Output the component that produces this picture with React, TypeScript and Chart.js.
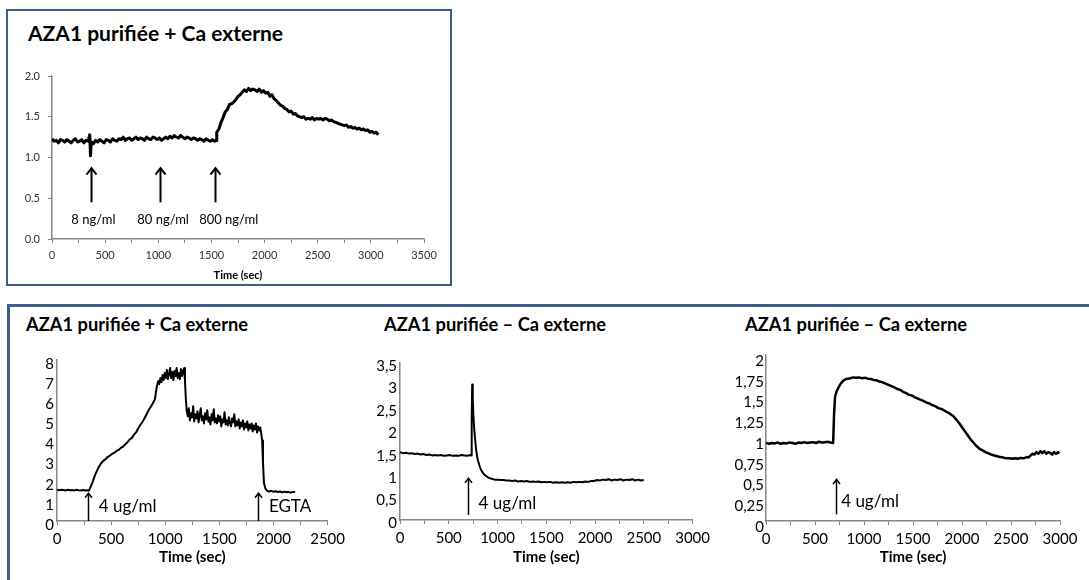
import React, { useEffect, useRef } from 'react';
import { Chart, registerables } from 'chart.js';

Chart.register(...registerables);

const FONT = 'Lato, "Open Sans", sans-serif';
const AXIS_GREY = '#868686';
const FRAME_BLUE = '#3c5f8c';

// ---------------- data ----------------
// Panel A (top): AZA1 purifiée + Ca externe, ratio vs time (sec)
const topTrace: [number, number][] = [
  [0, 1.23], [20, 1.2], [40, 1.21], [60, 1.18], [80, 1.22], [100, 1.21], [120, 1.19], [140, 1.22],
  [160, 1.2], [180, 1.18], [200, 1.21], [220, 1.23], [240, 1.19], [260, 1.2], [280, 1.22], [300, 1.18],
  [320, 1.21], [340, 1.2], [355, 1.28], [362, 1.02], [370, 1.19], [390, 1.17], [410, 1.21], [430, 1.19],
  [450, 1.22], [470, 1.2], [490, 1.18], [510, 1.22], [530, 1.21], [550, 1.19], [570, 1.23], [590, 1.21],
  [610, 1.2], [630, 1.23], [650, 1.22], [670, 1.25], [690, 1.21], [710, 1.23], [730, 1.24], [750, 1.21],
  [770, 1.23], [790, 1.25], [810, 1.22], [830, 1.24], [850, 1.23], [870, 1.21], [890, 1.25], [910, 1.23],
  [930, 1.22], [950, 1.25], [970, 1.24], [990, 1.22], [1010, 1.24], [1030, 1.21], [1050, 1.23], [1070, 1.25],
  [1090, 1.23], [1110, 1.26], [1130, 1.24], [1150, 1.27], [1170, 1.25], [1190, 1.24], [1210, 1.27], [1230, 1.25],
  [1250, 1.23], [1270, 1.25], [1290, 1.24], [1310, 1.22], [1330, 1.24], [1350, 1.23], [1370, 1.21], [1390, 1.23],
  [1410, 1.22], [1430, 1.2], [1450, 1.23], [1470, 1.21], [1490, 1.2], [1510, 1.22], [1530, 1.2], [1545, 1.21],
  [1550, 1.31], [1570, 1.35], [1590, 1.43], [1610, 1.49], [1630, 1.56], [1650, 1.59], [1670, 1.65], [1690, 1.66],
  [1710, 1.68], [1730, 1.71], [1750, 1.75], [1770, 1.77], [1790, 1.8], [1810, 1.83], [1830, 1.81], [1850, 1.85],
  [1870, 1.82], [1890, 1.84], [1910, 1.83], [1930, 1.81], [1950, 1.84], [1970, 1.8], [1990, 1.82], [2010, 1.79],
  [2030, 1.8], [2050, 1.75], [2070, 1.77], [2090, 1.72], [2110, 1.7], [2130, 1.67], [2150, 1.64], [2170, 1.63],
  [2190, 1.6], [2210, 1.59], [2230, 1.56], [2250, 1.57], [2270, 1.53], [2290, 1.54], [2310, 1.51], [2330, 1.5],
  [2350, 1.49], [2370, 1.5], [2390, 1.47], [2410, 1.48], [2430, 1.47], [2450, 1.49], [2470, 1.46], [2490, 1.48],
  [2510, 1.47], [2530, 1.48], [2550, 1.46], [2570, 1.48], [2590, 1.47], [2610, 1.45], [2630, 1.46], [2650, 1.44],
  [2670, 1.43], [2690, 1.42], [2710, 1.41], [2730, 1.4], [2750, 1.39], [2770, 1.4], [2790, 1.37], [2810, 1.38],
  [2830, 1.36], [2850, 1.37], [2870, 1.35], [2890, 1.36], [2910, 1.34], [2930, 1.35], [2950, 1.33], [2970, 1.34],
  [2990, 1.31], [3010, 1.32], [3030, 1.3], [3050, 1.31], [3070, 1.28],
];
const topArrowTimes = [364, 1016, 1533];
const topNoteTimes = [390, 1045, 1663];
const topNotes = ['8 ng/ml', '80 ng/ml', '800 ng/ml'];

// Panel B (bottom left): AZA1 purifiée + Ca externe, 4 ug/ml then EGTA
const blTrace: [number, number][] = [
  [0, 1.55], [20, 1.53], [40, 1.55], [60, 1.54], [80, 1.52], [100, 1.55], [120, 1.53], [140, 1.54],
  [160, 1.52], [180, 1.55], [200, 1.53], [220, 1.52], [240, 1.54], [260, 1.52], [280, 1.53], [295, 1.51],
  [310, 1.68], [330, 1.95], [350, 2.27], [370, 2.5], [390, 2.72], [410, 2.88], [430, 3.0], [450, 3.08],
  [470, 3.19], [490, 3.25], [510, 3.34], [530, 3.4], [550, 3.48], [570, 3.53], [590, 3.63], [610, 3.69],
  [630, 3.81], [650, 3.9], [670, 4.05], [690, 4.12], [710, 4.28], [730, 4.4], [750, 4.6], [770, 4.78],
  [790, 4.93], [810, 5.12], [830, 5.33], [850, 5.54], [870, 5.7], [890, 5.9], [905, 6.05], [915, 6.45],
  [925, 6.75], [935, 6.95], [945, 6.8], [955, 7.1], [965, 6.9], [975, 7.25], [985, 7.0], [995, 7.35],
  [1005, 7.1], [1015, 7.5], [1025, 7.05], [1035, 7.3], [1045, 7.6], [1055, 7.1], [1065, 7.4], [1075, 7.0],
  [1085, 7.45], [1095, 7.2], [1105, 7.6], [1115, 7.1], [1125, 7.35], [1135, 7.05], [1145, 7.55], [1155, 7.2],
  [1165, 7.45], [1175, 7.6], [1182, 7.0], [1190, 6.1], [1198, 5.5], [1208, 5.2], [1218, 5.6], [1228, 5.0],
  [1238, 5.35], [1248, 5.15], [1258, 5.7], [1268, 4.95], [1278, 5.3], [1288, 5.1], [1298, 5.45], [1308, 4.9],
  [1318, 5.25], [1328, 5.6], [1338, 5.0], [1348, 5.2], [1358, 4.85], [1368, 5.35], [1378, 5.05], [1388, 5.5],
  [1398, 4.95], [1408, 5.15], [1418, 4.8], [1428, 5.3], [1438, 5.0], [1448, 5.55], [1458, 4.9], [1468, 5.1],
  [1478, 4.85], [1488, 5.25], [1498, 4.95], [1508, 5.2], [1518, 4.7], [1528, 5.05], [1538, 4.9], [1548, 5.4],
  [1558, 4.8], [1568, 5.0], [1578, 4.75], [1588, 5.15], [1598, 4.85], [1608, 4.7], [1618, 5.1], [1628, 4.9],
  [1638, 5.3], [1648, 4.7], [1658, 4.95], [1668, 4.75], [1678, 5.05], [1688, 4.6], [1698, 4.9], [1708, 4.7],
  [1718, 5.0], [1728, 4.55], [1738, 4.85], [1748, 4.65], [1758, 4.95], [1768, 4.5], [1778, 4.8], [1788, 4.6],
  [1798, 4.85], [1808, 4.45], [1818, 4.75], [1828, 4.55], [1838, 4.85], [1848, 4.4], [1858, 4.7], [1868, 4.5],
  [1878, 4.65], [1888, 4.3], [1895, 4.0], [1903, 2.9], [1912, 1.9], [1925, 1.62], [1940, 1.5], [1960, 1.47],
  [1980, 1.5], [2000, 1.45], [2020, 1.48], [2040, 1.44], [2060, 1.47], [2080, 1.42], [2100, 1.46], [2120, 1.43],
  [2140, 1.45], [2160, 1.41], [2180, 1.45], [2200, 1.43],
];
const blArrowTimes = [286, 1859];
const blNoteTimes = [386, 1958];
const blNotes = ['4 ug/ml', 'EGTA'];

// Panel C (bottom middle): AZA1 purifiée – Ca externe
const bmTrace: [number, number][] = [
  [0, 1.51], [30, 1.49], [60, 1.5], [90, 1.48], [120, 1.49], [150, 1.47], [180, 1.48], [210, 1.46],
  [240, 1.47], [270, 1.45], [300, 1.46], [330, 1.44], [360, 1.45], [390, 1.44], [420, 1.45], [450, 1.43],
  [480, 1.44], [510, 1.45], [540, 1.43], [570, 1.44], [600, 1.43], [630, 1.45], [660, 1.44], [690, 1.43],
  [720, 1.45], [728, 1.44], [735, 2.2], [740, 3.02], [746, 2.7], [752, 2.35], [760, 2.05], [770, 1.8],
  [780, 1.58], [790, 1.42], [800, 1.32], [815, 1.21], [830, 1.12], [850, 1.05], [870, 1.0], [890, 0.97],
  [910, 0.94], [940, 0.92], [970, 0.9], [1000, 0.9], [1030, 0.89], [1060, 0.89], [1090, 0.88], [1120, 0.88],
  [1150, 0.87], [1180, 0.88], [1210, 0.86], [1240, 0.87], [1270, 0.86], [1300, 0.87], [1330, 0.85], [1360, 0.86],
  [1390, 0.85], [1420, 0.86], [1450, 0.84], [1480, 0.85], [1510, 0.84], [1540, 0.85], [1570, 0.83], [1600, 0.84],
  [1630, 0.83], [1660, 0.84], [1690, 0.83], [1720, 0.84], [1750, 0.83], [1780, 0.85], [1810, 0.84], [1840, 0.85],
  [1870, 0.84], [1900, 0.86], [1930, 0.85], [1960, 0.87], [1990, 0.87], [2020, 0.89], [2050, 0.88], [2080, 0.9],
  [2110, 0.89], [2140, 0.91], [2170, 0.88], [2200, 0.9], [2230, 0.89], [2260, 0.91], [2290, 0.88], [2320, 0.9],
  [2350, 0.89], [2380, 0.91], [2410, 0.88], [2440, 0.9], [2470, 0.88], [2500, 0.89],
];
const bmArrowTimes = [699];
const bmNoteTimes = [806];
const bmNotes = ['4 ug/ml'];

// Panel D (bottom right): AZA1 purifiée – Ca externe
const brTrace: [number, number][] = [
  [0, 0.94], [30, 0.93], [60, 0.94], [90, 0.935], [120, 0.945], [150, 0.93], [180, 0.94], [210, 0.935],
  [240, 0.945], [270, 0.94], [300, 0.93], [330, 0.945], [360, 0.94], [390, 0.95], [420, 0.94], [450, 0.945],
  [480, 0.95], [510, 0.94], [540, 0.955], [570, 0.945], [600, 0.95], [630, 0.955], [660, 0.945], [685, 0.94],
  [695, 1.3], [705, 1.5], [720, 1.56], [740, 1.61], [760, 1.65], [780, 1.68], [800, 1.7], [830, 1.715],
  [860, 1.72], [890, 1.73], [920, 1.725], [950, 1.73], [980, 1.72], [1010, 1.725], [1040, 1.715], [1070, 1.71],
  [1100, 1.7], [1130, 1.695], [1160, 1.68], [1190, 1.67], [1220, 1.655], [1250, 1.64], [1280, 1.625], [1310, 1.61],
  [1340, 1.59], [1370, 1.58], [1400, 1.555], [1430, 1.54], [1460, 1.52], [1490, 1.51], [1520, 1.49], [1550, 1.475],
  [1580, 1.46], [1610, 1.445], [1640, 1.425], [1670, 1.415], [1700, 1.395], [1730, 1.38], [1760, 1.36], [1790, 1.35],
  [1820, 1.33], [1850, 1.31], [1880, 1.29], [1910, 1.265], [1940, 1.225], [1970, 1.18], [2000, 1.13], [2030, 1.08],
  [2060, 1.03], [2090, 0.98], [2120, 0.94], [2150, 0.9], [2180, 0.87], [2210, 0.85], [2240, 0.83], [2270, 0.815],
  [2300, 0.8], [2330, 0.79], [2360, 0.78], [2390, 0.77], [2420, 0.765], [2450, 0.755], [2480, 0.755], [2510, 0.75],
  [2540, 0.755], [2570, 0.75], [2600, 0.76], [2630, 0.755], [2660, 0.77], [2680, 0.765], [2700, 0.79], [2720, 0.81],
  [2740, 0.8], [2760, 0.83], [2780, 0.81], [2800, 0.84], [2820, 0.82], [2840, 0.84], [2860, 0.81], [2880, 0.83],
  [2900, 0.82], [2920, 0.8], [2940, 0.83], [2960, 0.81], [2980, 0.83], [2990, 0.81],
];
const brArrowTimes = [713];
const brNoteTimes = [767];
const brNotes = ['4 ug/ml'];

const titlePlus = 'AZA1 purifiée + Ca externe';
const titleMinus = 'AZA1 purifiée – Ca externe';
const xAxisTitle = 'Time (sec)';

// ---------------- chart plumbing ----------------
type Spec = {
  trace: [number, number][];
  arrowTimes: number[];
  arrowFrom: number;
  arrowTo: number;
  noteTimes: number[];
  notes: string[];
  noteY: number;
  noteAlign: CanvasTextAlign;
  noteFont: number;
  arrowWidth: number;
  head: number;
  xMax: number;
  xStep: number;
  xLabelEvery: number;
  yMax: number;
  yStep: number;
  yFmt: (v: number) => string;
  left: number;
  top: number;
  width: number;
  height: number;
  padTop: number;
  padRight: number;
  yAxisWidth: number;
  xAxisHeight: number;
  tickFont: number;
  tickColor: string;
  titleFont: number;
  xTickPad: number;
  yTickLen: number;
  yTickPad: number;
  yLabelOffset: number;
  lineWidth: number;
};

const arrowPlugin = {
  id: 'arrowNotes',
  afterDatasetsDraw(chart: any, _args: any, o: any) {
    const { ctx } = chart;
    const xs = chart.scales.x;
    const ys = chart.scales.y;
    ctx.save();
    ctx.strokeStyle = '#000';
    ctx.lineWidth = o.arrowWidth;
    ctx.lineCap = 'butt';
    ctx.lineJoin = 'miter';
    o.arrowTimes.forEach((t: number) => {
      const px = Math.round(xs.getPixelForValue(t)) + 0.5;
      const pTop = ys.getPixelForValue(o.arrowTo);
      const pBot = ys.getPixelForValue(o.arrowFrom);
      ctx.beginPath();
      ctx.moveTo(px, pBot);
      ctx.lineTo(px, pTop);
      ctx.stroke();
      ctx.beginPath();
      ctx.moveTo(px - o.head, pTop + o.head * 1.3);
      ctx.lineTo(px, pTop);
      ctx.lineTo(px + o.head, pTop + o.head * 1.3);
      ctx.stroke();
    });
    ctx.fillStyle = '#000';
    ctx.font = `${o.noteFont}px ${FONT}`;
    ctx.textAlign = o.noteAlign;
    ctx.textBaseline = 'middle';
    o.noteTimes.forEach((t: number, i: number) => {
      ctx.fillText(o.notes[i], xs.getPixelForValue(t), ys.getPixelForValue(o.noteY));
    });
    ctx.restore();
  },
};

function buildConfig(s: Spec): any {
  return {
    type: 'line',
    data: {
      datasets: [
        {
          data: s.trace.map(([t, v]) => ({ x: t, y: v })),
          borderColor: '#000',
          borderWidth: s.lineWidth,
          borderJoinStyle: 'round',
          pointRadius: 0,
          tension: 0,
          fill: false,
        },
      ],
    },
    options: {
      animation: false,
      responsive: false,
      maintainAspectRatio: false,
      events: [],
      layout: { padding: { top: s.padTop, right: s.padRight, left: 0, bottom: 0 } },
      plugins: {
        legend: { display: false },
        tooltip: { enabled: false },
        title: { display: false },
        arrowNotes: {
          arrowTimes: s.arrowTimes,
          arrowFrom: s.arrowFrom,
          arrowTo: s.arrowTo,
          noteTimes: s.noteTimes,
          notes: s.notes,
          noteY: s.noteY,
          noteAlign: s.noteAlign,
          noteFont: s.noteFont,
          arrowWidth: s.arrowWidth,
          head: s.head,
        },
      },
      scales: {
        x: {
          type: 'linear',
          min: 0,
          max: s.xMax,
          grid: { drawOnChartArea: false, drawTicks: true, tickLength: 4, color: AXIS_GREY, lineWidth: 1 },
          border: { display: true, color: AXIS_GREY, width: 1.5 },
          ticks: {
            stepSize: s.xStep,
            autoSkip: false,
            maxRotation: 0,
            padding: s.xTickPad,
            color: s.tickColor,
            font: { family: FONT, size: s.tickFont },
            callback: (v: number) => (v % s.xLabelEvery === 0 ? String(v) : ''),
          },
          title: {
            display: true,
            text: xAxisTitle,
            color: '#000',
            padding: 0,
            font: { family: FONT, size: s.titleFont, weight: 'bold' },
          },
          afterFit: (sc: any) => {
            sc.height = s.xAxisHeight;
          },
        },
        y: {
          type: 'linear',
          min: 0,
          max: s.yMax,
          grid: { drawOnChartArea: false, drawTicks: s.yTickLen > 0, tickLength: s.yTickLen, color: AXIS_GREY, lineWidth: 1 },
          border: { display: true, color: AXIS_GREY, width: 1.5 },
          ticks: {
            stepSize: s.yStep,
            autoSkip: false,
            padding: s.yTickPad,
            labelOffset: s.yLabelOffset,
            color: s.tickColor,
            font: { family: FONT, size: s.tickFont },
            callback: (v: number) => s.yFmt(v),
          },
          afterFit: (sc: any) => {
            sc.width = s.yAxisWidth;
          },
        },
      },
    },
    plugins: [arrowPlugin],
  };
}

function PanelChart({ spec }: { spec: Spec }) {
  const ref = useRef<HTMLCanvasElement>(null);
  useEffect(() => {
    if (!ref.current) return;
    const chart = new Chart(ref.current, buildConfig(spec));
    return () => chart.destroy();
  }, [spec]);
  return (
    <canvas
      ref={ref}
      width={spec.width}
      height={spec.height}
      style={{ position: 'absolute', left: spec.left, top: spec.top, width: spec.width, height: spec.height }}
    />
  );
}

const commaFmt = (v: number) => String(v).replace('.', ',');

const topSpec: Spec = {
  trace: topTrace, arrowTimes: topArrowTimes, arrowFrom: 0.45, arrowTo: 0.87,
  noteTimes: topNoteTimes, notes: topNotes, noteY: 0.23, noteAlign: 'center', noteFont: 13,
  arrowWidth: 2, head: 5,
  xMax: 3500, xStep: 250, xLabelEvery: 500, yMax: 2, yStep: 0.5, yFmt: (v) => v.toFixed(1),
  left: 8, top: 60, width: 440, height: 222, padTop: 16, padRight: 24, yAxisWidth: 44, xAxisHeight: 43,
  tickFont: 11, tickColor: '#333', titleFont: 11, xTickPad: 6, yTickLen: 4, yTickPad: 8, yLabelOffset: 0,
  lineWidth: 3,
};

const blSpec: Spec = {
  trace: blTrace, arrowTimes: blArrowTimes, arrowFrom: 0, arrowTo: 1.38,
  noteTimes: blNoteTimes, notes: blNotes, noteY: 0.71, noteAlign: 'left', noteFont: 17,
  arrowWidth: 1.5, head: 3.5,
  xMax: 2500, xStep: 250, xLabelEvery: 500, yMax: 8, yStep: 1, yFmt: commaFmt,
  left: 10, top: 330, width: 340, height: 236, padTop: 30, padRight: 16, yAxisWidth: 47, xAxisHeight: 45,
  tickFont: 15, tickColor: '#000', titleFont: 15, xTickPad: 5, yTickLen: 0, yTickPad: 3, yLabelOffset: 4,
  lineWidth: 2,
};

const bmSpec: Spec = {
  trace: bmTrace, arrowTimes: bmArrowTimes, arrowFrom: 0.11, arrowTo: 0.93,
  noteTimes: bmNoteTimes, notes: bmNotes, noteY: 0.37, noteAlign: 'left', noteFont: 17,
  arrowWidth: 1.5, head: 3.5,
  xMax: 3000, xStep: 250, xLabelEvery: 500, yMax: 3.5, yStep: 0.5, yFmt: commaFmt,
  left: 355, top: 330, width: 360, height: 236, padTop: 33, padRight: 17, yAxisWidth: 45, xAxisHeight: 46,
  tickFont: 15, tickColor: '#000', titleFont: 15, xTickPad: 5, yTickLen: 0, yTickPad: 3, yLabelOffset: 3,
  lineWidth: 2,
};

const brSpec: Spec = {
  trace: brTrace, arrowTimes: brArrowTimes, arrowFrom: 0.08, arrowTo: 0.5,
  noteTimes: brNoteTimes, notes: brNotes, noteY: 0.24, noteAlign: 'left', noteFont: 17,
  arrowWidth: 1.5, head: 3.5,
  xMax: 3000, xStep: 250, xLabelEvery: 500, yMax: 2, yStep: 0.25, yFmt: commaFmt,
  left: 718, top: 330, width: 368, height: 236, padTop: 25, padRight: 26, yAxisWidth: 48, xAxisHeight: 45,
  tickFont: 15, tickColor: '#000', titleFont: 15, xTickPad: 5, yTickLen: 0, yTickPad: 2, yLabelOffset: 6,
  lineWidth: 2.5,
};

const titleStyle = (left: number, top: number, size: number): React.CSSProperties => ({
  position: 'absolute',
  left,
  top,
  fontFamily: FONT,
  fontWeight: 700,
  fontSize: size,
  lineHeight: `${size}px`,
  whiteSpace: 'nowrap',
  color: '#000',
});

export default function App() {
  return (
    <div style={{ position: 'absolute', left: 0, top: 0, width: 1089, height: 580, overflow: 'hidden', background: '#fff' }}>
      <div
        style={{
          position: 'absolute', left: 6, top: 9, width: 442, height: 273,
          border: `2px solid ${FRAME_BLUE}`,
        }}
      />
      <div
        style={{
          position: 'absolute', left: 7, top: 304, width: 1200, height: 400,
          border: `3px solid ${FRAME_BLUE}`,
        }}
      />
      <div style={titleStyle(28, 22, 21)}>{titlePlus}</div>
      <div style={titleStyle(26, 315, 18.3)}>{titlePlus}</div>
      <div style={titleStyle(384, 315, 18.3)}>{titleMinus}</div>
      <div style={titleStyle(745, 315, 18.3)}>{titleMinus}</div>
      <PanelChart spec={topSpec} />
      <PanelChart spec={blSpec} />
      <PanelChart spec={bmSpec} />
      <PanelChart spec={brSpec} />
    </div>
  );
}
